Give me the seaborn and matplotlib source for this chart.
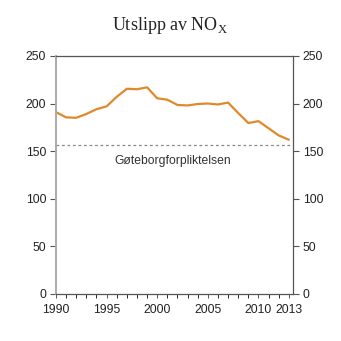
import matplotlib
matplotlib.use("Agg")
import matplotlib.pyplot as plt
import seaborn as sns
import pandas as pd

years = list(range(1990, 2014))
nox = [191, 185.5, 185, 189, 194, 197, 207, 215.5, 215, 217, 205.5, 204,
       198.5, 198, 199.5, 200, 199, 201, 190, 179.5, 181.5, 174, 166.5, 162]
target_value = 156
target_label = "Gøteborgforpliktelsen"
year_ticks = [1990, 1995, 2000, 2005, 2010, 2013]
value_ticks = [0, 50, 100, 150, 200, 250]

sns.set_style("white")
plt.rcParams["font.family"] = ["Liberation Sans", "DejaVu Sans"]

df = pd.DataFrame({"year": years, "nox": nox})

fig = plt.figure(figsize=(3.41, 3.41), dpi=100)
ax = fig.add_axes([0.164, 0.138, 0.695, 0.698])

sns.lineplot(data=df, x="year", y="nox", ax=ax, color="#e0892a", linewidth=1.6)
ax.axhline(target_value, color="#888888", linestyle=(0, (2.2, 2.2)), linewidth=0.9,
           xmin=0.0, xmax=0.99)
ax.text(2001.5, target_value - 16, target_label, ha="center", va="center",
        fontsize=8.7, color="#333333")

ax.set_xlim(1990, 2013.4)
ax.set_ylim(0, 250)
ax.set_xticks(year_ticks)
ax.set_xticks(years, minor=True)
ax.set_yticks(value_ticks)
ax.set_xlabel("")
ax.set_ylabel("")

for side in ["top", "right", "bottom"]:
    ax.spines[side].set_color("#555555")
    ax.spines[side].set_linewidth(0.9)
ax.spines["left"].set_color("#aaaaaa")
ax.spines["left"].set_linewidth(1.4)

ax.tick_params(axis="both", labelsize=8.7, labelcolor="#222222", colors="#555555")
ax.tick_params(axis="y", direction="out", length=4, width=0.8, pad=3, left=True)
ax.tick_params(axis="x", which="both", direction="out", length=3, width=0.7, pad=4,
               bottom=True)

ax2 = ax.twinx()
ax2.set_ylim(0, 250)
ax2.set_yticks(value_ticks)
ax2.tick_params(axis="y", labelsize=8.7, labelcolor="#222222", colors="#555555",
                direction="out", length=4, width=0.8, pad=3, right=True)
for s in ax2.spines.values():
    s.set_visible(False)

fig.text(0.5, 0.925, r"Utslipp av NO$_\mathregular{X}$", ha="center", va="center",
         fontsize=13, family=["Liberation Serif", "DejaVu Serif"], color="#222222")

fig.savefig("out.png", dpi=100)
